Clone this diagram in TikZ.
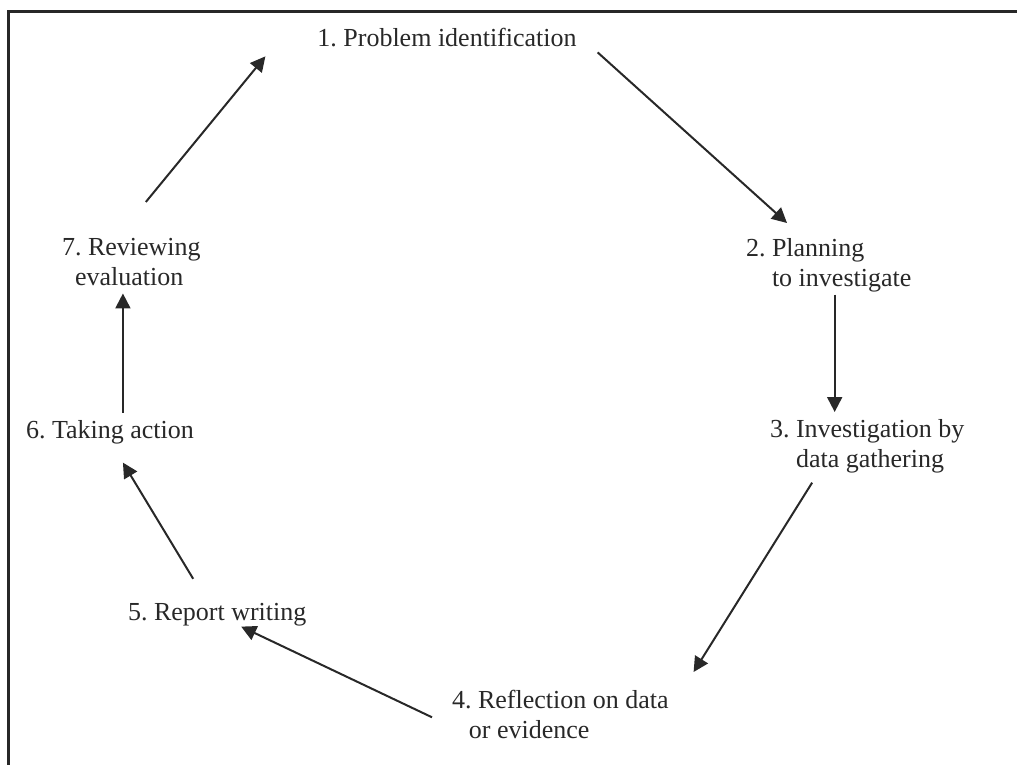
\documentclass[tikz,border=0pt]{standalone}
\usepackage{fontspec}
\setmainfont{Liberation Serif}
\usetikzlibrary{arrows.meta}
\definecolor{inkgray}{RGB}{40,40,40}
\frenchspacing

\begin{document}
\begin{tikzpicture}[x=0.5pt,y=-0.5pt,
  stage/.style={inner sep=0pt,outer sep=0pt,text=inkgray,
    font=\fontsize{13}{15}\selectfont,align=left},
  cyc/.style={draw=inkgray,line width=1pt,
    -{Triangle[length=7.5pt,width=7.5pt]}}]
\useasboundingbox (0,0) rectangle (1017,765);

% Frame
\draw[line width=1.5pt,draw=inkgray] (8,765) -- (8,12) -- (1017,12);

% Stages
\node[stage,anchor=base] (p1) at (447,47) {1. Problem identification};
\node[stage,anchor=north west] (p2) at (746,238) {2. Planning\\\hspace*{1em}to investigate};
\node[stage,anchor=north west] (p3) at (770,419) {3. Investigation by\\\hspace*{1em}data gathering};
\node[stage,anchor=north west] (p4) at (452,690) {4. Reflection on data\\\hspace*{0.65em}or evidence};
\node[stage,anchor=base west] (p5) at (128,620) {5. Report writing};
\node[stage,anchor=base west] (p6) at (26,438) {6. Taking action};
\node[stage,anchor=north west] (p7) at (62,238) {7. Reviewing\\\hspace*{0.5em}evaluation};

% Cycle arrows
\draw[cyc] ([shift={(21,5)}]p1.south east) -- ([shift={(41,-15)}]p2.north west);
\draw[cyc] ([shift={(6,3)}]p2.south) -- ([shift={(6,-7)}]p2.south |- p3.north);
\draw[cyc] ([shift={(-55,10)}]p3.south) -- ([shift={(25,-18)}]p4.north east);
\draw[cyc] ([shift={(-20,3)}]p4.west) -- ([shift={(24,1)}]p5.south);
\draw[cyc] ([shift={(-24,-24)}]p5.north) -- ([shift={(13,19)}]p6.south);
\draw[cyc] ([shift={(13,-7)}]p6.north) -- ([shift={(13,8)}]p6.north |- p7.south);
\draw[cyc] ([shift={(14.5,-36)}]p7.north) -- ([shift={(-52,9)}]p1.south west);
\end{tikzpicture}
\end{document}
